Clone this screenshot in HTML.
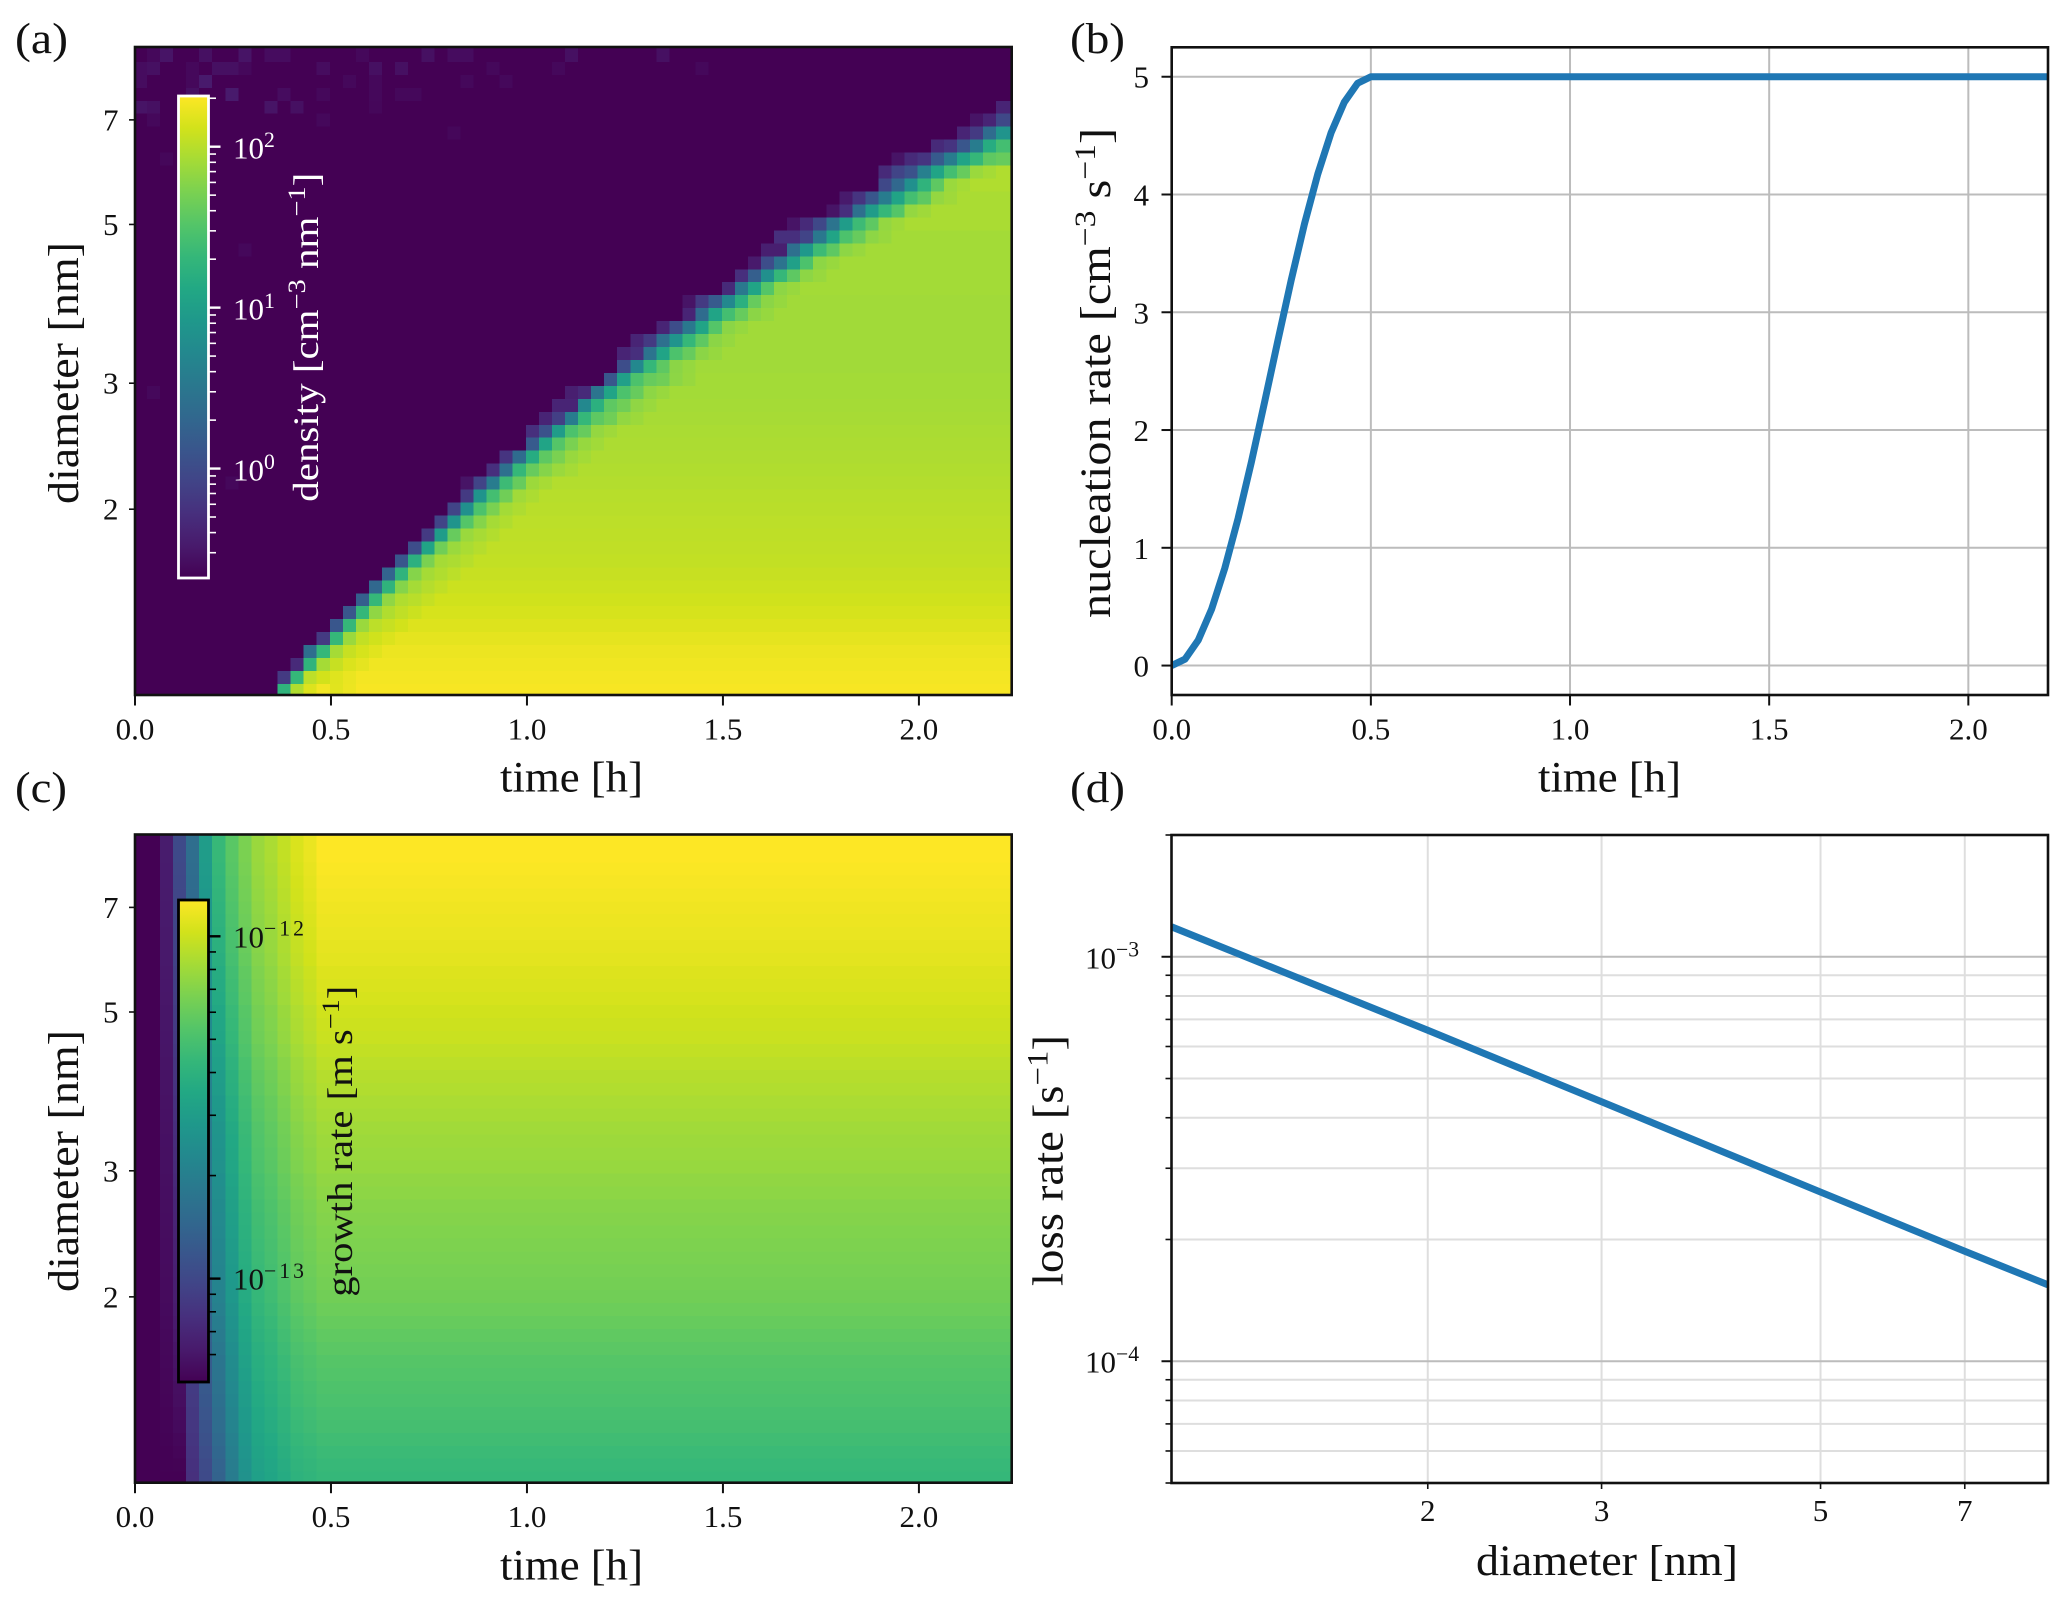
<!DOCTYPE html>
<html lang="en">
<head>
<meta charset="utf-8">
<title>Nucleation and growth panels</title>
<style>
html,body{margin:0;padding:0;background:#fff;}
svg{display:block;}
text{font-family:"Liberation Serif","DejaVu Serif",serif;}
</style>
</head>
<body>
<svg id="chart" xmlns="http://www.w3.org/2000/svg" width="2067" height="1609" viewBox="0 0 2067 1609">
<defs>
<clipPath id="clip-b"><rect x="1171.7" y="47.3" width="876.3" height="647.7"/></clipPath>
<clipPath id="clip-d"><rect x="1171.5" y="835" width="876.5" height="648"/></clipPath>
<linearGradient id="viridis-gradient" x1="0" y1="1" x2="0" y2="0"></linearGradient>
</defs>
<rect x="0" y="0" width="2067" height="1609" fill="#ffffff"/>

<g id="heat-a" shape-rendering="crispEdges"></g>
<g id="heat-c" shape-rendering="crispEdges"></g>
<g id="grid-b"></g>
<g id="grid-d"></g>
<path id="line-b" clip-path="url(#clip-b)" fill="none" stroke="#1f77b4" stroke-width="7" stroke-linejoin="round"/>
<path id="line-d" clip-path="url(#clip-d)" fill="none" stroke="#1f77b4" stroke-width="7" stroke-linejoin="round"/>

<rect x="135" y="47" width="876.7" height="648" fill="none" stroke="#111" stroke-width="2.6"/>
<rect x="1171.7" y="47.3" width="876.3" height="647.7" fill="none" stroke="#111" stroke-width="2.6"/>
<rect x="135" y="834.5" width="876.7" height="648.2" fill="none" stroke="#111" stroke-width="2.6"/>
<rect x="1171.5" y="835" width="876.5" height="648" fill="none" stroke="#111" stroke-width="2.6"/>

<rect x="178.5" y="96" width="30" height="482" fill="url(#viridis-gradient)" stroke="#ffffff" stroke-width="2.8"/>
<rect x="178.5" y="900" width="30" height="482" fill="url(#viridis-gradient)" stroke="#000000" stroke-width="2.8"/>

<g id="axes-marks"></g>

<text x="15" y="53" font-size="43" textLength="53" lengthAdjust="spacingAndGlyphs" fill="#111">(a)</text>
<text x="1070" y="53" font-size="43" textLength="55" lengthAdjust="spacingAndGlyphs" fill="#111">(b)</text>
<text x="15" y="802" font-size="43" textLength="52" lengthAdjust="spacingAndGlyphs" fill="#111">(c)</text>
<text x="1070" y="802" font-size="43" textLength="55" lengthAdjust="spacingAndGlyphs" fill="#111">(d)</text>

<text x="500" y="791.5" font-size="43" textLength="143" lengthAdjust="spacingAndGlyphs" fill="#111">time [h]</text>
<text x="1538" y="791.5" font-size="43" textLength="143" lengthAdjust="spacingAndGlyphs" fill="#111">time [h]</text>
<text x="500" y="1579.3" font-size="43" textLength="143" lengthAdjust="spacingAndGlyphs" fill="#111">time [h]</text>
<text x="1476" y="1575" font-size="43" textLength="262" lengthAdjust="spacingAndGlyphs" fill="#111">diameter [nm]</text>

<text transform="translate(78,504) rotate(-90)" font-size="43" textLength="262" lengthAdjust="spacingAndGlyphs" fill="#111">diameter [nm]</text>
<text transform="translate(78,1292) rotate(-90)" font-size="43" textLength="262" lengthAdjust="spacingAndGlyphs" fill="#111">diameter [nm]</text>
<text transform="translate(1110,618) rotate(-90)" font-size="43" textLength="490" lengthAdjust="spacingAndGlyphs" fill="#111">nucleation rate [cm<tspan dy="-15" font-size="30">−3</tspan><tspan dy="15"> s</tspan><tspan dy="-15" font-size="30">−1</tspan><tspan dy="15">]</tspan></text>
<text transform="translate(1062.6,1286) rotate(-90)" font-size="43" textLength="251" lengthAdjust="spacingAndGlyphs" fill="#111">loss rate [s<tspan dy="-15" font-size="30">−1</tspan><tspan dy="15">]</tspan></text>

<text transform="translate(318,501.7) rotate(-90)" font-size="36" textLength="329" lengthAdjust="spacingAndGlyphs" fill="#ffffff">density [cm<tspan dy="-13" font-size="25">−3</tspan><tspan dy="13"> nm</tspan><tspan dy="-13" font-size="25">−1</tspan><tspan dy="13">]</tspan></text>
<text transform="translate(352,1296.7) rotate(-90)" font-size="36" textLength="311" lengthAdjust="spacingAndGlyphs" fill="#111">growth rate [m s<tspan dy="-13" font-size="25">−1</tspan><tspan dy="13">]</tspan></text>
</svg>

<script>
// ---------- Panel (a): density, log10 values ----------
// Each row (bottom to top): first coloured column, then the log10 density of successive edge cells.
const densityEdgeRows = [
 [11,1.25,1.95,2.15,2.25],
 [11,-0.2,1.3,2.0,2.1],
 [12,-0.35,1.25,1.9,2.05],
 [13,0.38,1.3,1.9,2.05],
 [14,-0.2,1.3,1.85,2.03],
 [15,0.1,1.3,1.85,2.0],
 [16,0.1,1.3,1.8,1.95],
 [17,0.2,1.3,1.8,1.95],
 [18,0.3,1.25,1.75,1.9],
 [19,0.25,1.25,1.75,1.9],
 [20,0.1,1.2,1.7,1.9],
 [21,0.0,1.05,1.65,1.85],
 [22,-0.2,0.95,1.6,1.85],
 [23,-0.1,0.85,1.5,1.75],
 [24,-0.1,0.8,1.45,1.7],
 [25,-0.2,0.85,1.4,1.65],
 [25,-0.55,-0.1,0.55,1.35,1.6],
 [27,-0.3,0.4,1.3,1.6,1.75],
 [28,-0.25,0.35,1.15,1.55,1.7],
 [30,0.15,1.05,1.5,1.7],
 [30,-0.3,0.05,0.95,1.45,1.6],
 [31,-0.4,-0.15,0.55,1.3,1.55,1.65],
 [32,-0.4,-0.4,0.7,1.2,1.55,1.65],
 [33,-0.45,-0.35,0.45,1.05,1.45,1.6],
 [36,0.1,1.0,1.45,1.6,1.65],
 [37,0.0,0.7,1.3,1.55],
 [37,-0.4,-0.3,0.45,1.05,1.45,1.6],
 [38,-0.4,-0.2,0.4,0.85,1.3,1.55],
 [40,-0.4,0.0,0.5,1.05,1.5],
 [42,-0.4,0.35,1.05,1.4,1.6],
 [42,-0.55,-0.2,0.15,0.7,1.2,1.6],
 [45,-0.35,0.5,1.05,1.5],
 [46,-0.3,0.2,0.8,1.3,1.55],
 [47,-0.5,0.0,0.45,1.0,1.45],
 [48,-0.45,-0.45,0.4,0.9,1.35,1.55],
 [49,-0.3,-0.3,-0.1,0.5,1.05,1.45,1.6],
 [50,-0.55,-0.35,-0.05,0.45,0.95,1.35,1.55],
 [53,-0.55,-0.3,0.4,0.95,1.3,1.5],
 [54,-0.5,-0.25,0.1,0.55,1.05,1.4,1.55],
 [57,-0.05,0.3,0.8,1.25,1.55],
 [57,-0.35,-0.1,0.05,0.6,1.05,1.4,1.6],
 [58,-0.55,-0.35,-0.25,0.15,0.55,1.05,1.3,1.55,1.6],
 [61,-0.35,-0.25,0.1,0.55,1.15,1.4],
 [63,-0.4,-0.2,0.35,0.85],
 [64,-0.55,-0.4,-0.05],
 [66,-0.4]
];
const densityPlateauLog = [2.27,2.26,2.24,2.22,2.19,2.15,2.12,2.09,2.07,2.05,2.03,2.02,2.01,2.0,1.99,1.98,1.96,1.95,1.94,1.93,1.92,1.91,1.9,1.89,1.89,1.88,1.88,1.88,1.88,1.88,1.88,1.89,1.89,1.89,1.89,1.89,1.92,1.92,1.92,1.95,1.95,1.95,1.95,1.95,1.95,1.95];
// Offset of the cells just behind the explicit edge, relative to the row's plateau
const densityPlateauApproach = [-0.1,-0.05];
// Isolated faint cells ahead of the front: [column, row, log10 density]
const densitySpeckles = [
 [1,49,-0.64],[2,49,-0.55],[5,49,-0.58],[8,49,-0.55],[10,49,-0.61],[11,49,-0.61],[17,49,-0.64],[22,49,-0.58],[24,49,-0.61],[25,49,-0.61],[33,49,-0.58],[40,49,-0.58],
 [0,48,-0.61],[1,48,-0.58],[4,48,-0.64],[6,48,-0.58],[7,48,-0.58],[8,48,-0.64],[14,48,-0.61],[18,48,-0.58],[20,48,-0.58],[27,48,-0.64],[32,48,-0.64],[43,48,-0.64],
 [0,47,-0.61],[4,47,-0.64],[5,47,-0.5],[16,47,-0.64],[18,47,-0.64],[25,47,-0.64],[28,47,-0.64],
 [4,46,-0.58],[7,46,-0.5],[11,46,-0.61],[14,46,-0.64],[18,46,-0.64],[20,46,-0.64],[21,46,-0.64],
 [0,45,-0.55],[1,45,-0.58],[10,45,-0.55],[12,45,-0.58],[18,45,-0.65],
 [1,44,-0.64],[14,44,-0.64],[24,43,-0.65],[2,41,-0.65],[8,34,-0.64],[1,23,-0.64],[7,16,-0.64]
];
const densityBackgroundLog = -0.7;
const densityColorRange = [-0.7, 2.3];
const densityColumnCount = 67;
const heatmapRowCount = 50;
const timeBinsPerHour = 30;

// ---------- Panel (c): growth rate, log10 m/s ----------
const growthPlateauLog = [-12.369,-12.362,-12.348,-12.334,-12.32,-12.313,-12.299,-12.292,-12.278,-12.271,-12.257,-12.243,-12.229,-12.215,-12.201,-12.194,-12.187,-12.18,-12.173,-12.166,-12.159,-12.152,-12.138,-12.131,-12.117,-12.11,-12.103,-12.096,-12.082,-12.075,-12.061,-12.054,-12.04,-12.026,-12.012,-12.005,-11.998,-11.984,-11.977,-11.97,-11.956,-11.949,-11.942,-11.935,-11.928,-11.921,-11.914,-11.907,-11.9,-11.9];
// Decades below the plateau for the first columns, read at the top and bottom rows
const growthStartupTop = [-1.4,-1.4,-1.3,-1.09,-0.9,-0.63,-0.46,-0.36,-0.28,-0.21,-0.175,-0.126,-0.077,-0.042];
const growthStartupBottom = [-0.93,-0.93,-0.93,-0.93,-0.74,-0.62,-0.49,-0.35,-0.22,-0.14,-0.11,-0.07,-0.03,-0.015];
const growthColorRange = [-13.3, -11.9];

// ---------- Panel (b) ----------
const nucleationTimes = [0,0.0333,0.0667,0.1,0.1333,0.1667,0.2,0.2333,0.2667,0.3,0.3333,0.3667,0.4,0.4333,0.4667,0.5,1,1.5,2,2.2];
const nucleationRates = [0,0.054,0.216,0.477,0.827,1.25,1.727,2.239,2.761,3.273,3.75,4.173,4.523,4.784,4.945,5,5,5,5,5];

// ---------- Panel (d) ----------
const lossDiameters = [1.1,2,3,5,7,8.5];
const lossRates = [1.186e-3,6.58e-4,4.38e-4,2.62e-4,1.87e-4,1.545e-4];

// ---------- Tick values and labels ----------
const timeTicks = [0,0.5,1,1.5,2];
const timeTickLabels = ['0.0','0.5','1.0','1.5','2.0'];
const diameterTicks = [2,3,5,7];
const diameterTickLabels = ['2','3','5','7'];
const nucleationTicks = [0,1,2,3,4,5];
const nucleationTickLabels = ['0','1','2','3','4','5'];
const lossMajorExponents = [-3,-4];
const lossMinorValues = [2e-3,9e-4,8e-4,7e-4,6e-4,5e-4,4e-4,3e-4,2e-4,9e-5,8e-5,7e-5,6e-5,5e-5];
const densityCbarExponents = [2,1,0];
const densityCbarMinors = [200,90,80,70,60,50,40,30,20,9,8,7,6,5,4,3,2,0.9,0.8,0.7,0.6,0.5,0.4,0.3];
const growthCbarExponents = [-12,-13];
const growthCbarMinors = [9e-13,8e-13,7e-13,6e-13,5e-13,4e-13,3e-13,2e-13,9e-14,8e-14,7e-14,6e-14];
const viridisStops = ['#440154','#481a6c','#472f7d','#414487','#39568c','#31688e','#2a788e','#23888e','#1f988b','#22a884','#35b779','#54c568','#7ad151','#a5db36','#d2e21b','#fde725'];

// ---------- Axis functions ----------
function linearScale(d0,d1,r0,r1){return v=>r0+(v-d0)/(d1-d0)*(r1-r0);}
function logScale(d0,d1,r0,r1){const a=Math.log10(d0),b=Math.log10(d1);return v=>r0+(Math.log10(v)-a)/(b-a)*(r1-r0);}

const timeMax = 2.2367;
const timeA = linearScale(0,timeMax,135,1011.7);
const timeB = linearScale(0,2.2,1171.7,2048);
const diamA = logScale(1.1,8.85,695,47);
const diamC = logScale(1.1,8.85,1482.7,834.5);
const rateB = linearScale(-0.25,5.25,695,47.3);
const diamD = logScale(1.1,8.5,1171.5,2048);
const lossD = logScale(5e-5,2e-3,1483,835);
const cbarA = linearScale(-0.68,2.315,578,96);
const cbarC = linearScale(-13.302,-11.894,1382,900);

function hexRgb(h){return [parseInt(h.slice(1,3),16),parseInt(h.slice(3,5),16),parseInt(h.slice(5,7),16)];}
function viridis(t){
  t=Math.max(0,Math.min(1,t));
  const p=t*(viridisStops.length-1),i=Math.min(Math.floor(p),viridisStops.length-2),f=p-i;
  const a=hexRgb(viridisStops[i]),b=hexRgb(viridisStops[i+1]);
  return 'rgb('+[0,1,2].map(k=>Math.round(a[k]+(b[k]-a[k])*f)).join(',')+')';
}

const NS='http://www.w3.org/2000/svg';
function node(tag,parent){const el=document.createElementNS(NS,tag);parent.appendChild(el);return el;}

function addCell(parent,x0,x1,y0,y1,color){
  const el=node('rect',parent);
  el.setAttribute('x',x0);
  el.setAttribute('y',y1);
  el.setAttribute('width',x1-x0);
  el.setAttribute('height',y0-y1);
  el.setAttribute('fill',color);
  
  
}
function addTick(parent,x1,y1,x2,y2,width,color){
  const el=node('line',parent);
  el.setAttribute('x1',x1);
  el.setAttribute('y1',y1);
  el.setAttribute('x2',x2);
  el.setAttribute('y2',y2);
  el.setAttribute('stroke',color);
  el.setAttribute('stroke-width',width);
  
  
}
function addGrid(parent,x1,y1,x2,y2,color){
  const el=node('line',parent);
  el.setAttribute('x1',x1);
  el.setAttribute('y1',y1);
  el.setAttribute('x2',x2);
  el.setAttribute('y2',y2);
  el.setAttribute('stroke',color);
  el.setAttribute('stroke-width',2);
  
  
}
function addLabel(parent,x,y,anchor,text,exponent,color,size,supSpacing){
  const el=node('text',parent);
  el.setAttribute('x',x);
  el.setAttribute('y',y);
  el.setAttribute('text-anchor',anchor);
  el.setAttribute('fill',color);
  el.setAttribute('font-size',size);
  el.textContent=text;
  if(exponent!==null){
    const sup=node('tspan',el);
    sup.setAttribute('dy',-size*0.38);
    sup.setAttribute('font-size',size*0.7);
    if(supSpacing)sup.setAttribute('letter-spacing',supSpacing);
    sup.textContent=String(exponent).replace('-','−');
  }
  
  
}

// ---------- Heatmap bin edges (the mesh sits slightly off the axis origin) ----------
const logDmin=Math.log10(1.1), logDmax=Math.log10(8.85);
const rowMeshOffset=0.15, columnMeshOffset=0.09;
function rowEdge(r){
  if(r<=0)return 1.1;
  if(r>=heatmapRowCount)return 8.85;
  return Math.pow(10,logDmin+(logDmax-logDmin)*(r-rowMeshOffset)/heatmapRowCount);
}
function columnEdge(c){
  if(c<=0)return 0;
  if(c>=densityColumnCount)return timeMax;
  return (c-columnMeshOffset)/timeBinsPerHour;
}

// ---------- Heatmap (a) ----------
const heatA=document.getElementById('heat-a');
function densityColor(v){return viridis((v-densityColorRange[0])/(densityColorRange[1]-densityColorRange[0]));}
const speckleLookup={};
densitySpeckles.forEach(s=>{speckleLookup[s[0]+'_'+s[1]]=s[2];});
for(let r=0;r<heatmapRowCount;r++){
  const edge=densityEdgeRows[r];
  for(let c=0;c<densityColumnCount;c++){
    let v=densityBackgroundLog;
    if(edge&&c>=edge[0]){
      const k=c-edge[0]+1;
      if(k<edge.length){
        v=edge[k];
      }else{
        const behind=k-edge.length;
        v=densityPlateauLog[r]+(behind<densityPlateauApproach.length?densityPlateauApproach[behind]:0);
      }
    }
    const key=c+'_'+r;
    if(key in speckleLookup&&v===densityBackgroundLog)v=speckleLookup[key];
    addCell(heatA,timeA(columnEdge(c)),timeA(columnEdge(c+1)),diamA(rowEdge(r)),diamA(rowEdge(r+1)),densityColor(v));
  }
}

// ---------- Heatmap (c) ----------
const heatC=document.getElementById('heat-c');
const growthLow=growthPlateauLog[0], growthHigh=growthPlateauLog[growthPlateauLog.length-1];
for(let r=0;r<heatmapRowCount;r++){
  const w=(growthPlateauLog[r]-growthLow)/(growthHigh-growthLow);
  for(let c=0;c<densityColumnCount;c++){
    const top=c<growthStartupTop.length?growthStartupTop[c]:0;
    const bottom=c<growthStartupBottom.length?growthStartupBottom[c]:0;
    const v=growthPlateauLog[r]+bottom+(top-bottom)*w;
    const t=(v-growthColorRange[0])/(growthColorRange[1]-growthColorRange[0]);
    addCell(heatC,timeA(columnEdge(c)),timeA(columnEdge(c+1)),diamC(rowEdge(r)),diamC(rowEdge(r+1)),viridis(t));
  }
}

// ---------- Colorbar gradient ----------
const gradient=document.getElementById('viridis-gradient');
viridisStops.forEach((color,i)=>{
  const stop=node('stop',gradient);
  stop.setAttribute('offset',i/(viridisStops.length-1));
  stop.setAttribute('stop-color',color);
});

// ---------- Grids ----------
const gridB=document.getElementById('grid-b');
const gridD=document.getElementById('grid-d');
timeTicks.forEach(v=>{if(v>0)addGrid(gridB,timeB(v),47.3,timeB(v),695,'#bcbcbc');});
nucleationTicks.forEach(v=>{addGrid(gridB,1171.7,rateB(v),2048,rateB(v),'#bcbcbc');});
diameterTicks.forEach(v=>{addGrid(gridD,diamD(v),835,diamD(v),1483,'#dedede');});
lossMinorValues.forEach(v=>{addGrid(gridD,1171.5,lossD(v),2048,lossD(v),'#dedede');});
lossMajorExponents.forEach(e=>{addGrid(gridD,1171.5,lossD(Math.pow(10,e)),2048,lossD(Math.pow(10,e)),'#bcbcbc');});

// ---------- Lines ----------
document.getElementById('line-b').setAttribute('d',nucleationTimes.map((t,i)=>(i?'L':'M')+timeB(t).toFixed(2)+' '+rateB(nucleationRates[i]).toFixed(2)).join(' '));
document.getElementById('line-d').setAttribute('d',lossDiameters.map((d,i)=>(i?'L':'M')+diamD(d).toFixed(2)+' '+lossD(lossRates[i]).toFixed(2)).join(' '));

// ---------- Ticks and tick labels ----------
const marks=document.getElementById('axes-marks');
const ink='#111111';
const tickSize=31;
function timeAxis(scale,baseY,labelY){
  timeTicks.forEach((v,i)=>{
    addTick(marks,scale(v),baseY,scale(v),baseY+10.5,2,ink);
    addLabel(marks,scale(v),labelY,'middle',timeTickLabels[i],null,ink,tickSize,0);
  });
}
timeAxis(timeA,695,739.3);
timeAxis(timeB,695,739.3);
timeAxis(timeA,1482.7,1527);

function diameterAxisY(scale){
  diameterTicks.forEach((v,i)=>{
    addTick(marks,129,scale(v),135,scale(v),1.6,ink);
    addLabel(marks,118.5,scale(v)+10.5,'end',diameterTickLabels[i],null,ink,tickSize,0);
  });
}
diameterAxisY(diamA);
diameterAxisY(diamC);

nucleationTicks.forEach((v,i)=>{
  addTick(marks,1161.5,rateB(v),1171.7,rateB(v),2,ink);
  addLabel(marks,1149,rateB(v)+11,'end',nucleationTickLabels[i],null,ink,tickSize,0);
});

diameterTicks.forEach((v,i)=>{
  addTick(marks,diamD(v),1483,diamD(v),1489,1.6,ink);
  addLabel(marks,diamD(v),1521,'middle',diameterTickLabels[i],null,ink,tickSize,0);
});
lossMajorExponents.forEach(e=>{
  const y=lossD(Math.pow(10,e));
  addTick(marks,1161.5,y,1171.5,y,2,ink);
  addLabel(marks,1085,y+11.5,'start','10',e,ink,tickSize,0);
});
lossMinorValues.forEach(v=>{
  addTick(marks,1165.5,lossD(v),1171.5,lossD(v),1.6,ink);
});

// ---------- Colorbar ticks ----------
densityCbarExponents.forEach(e=>{
  addTick(marks,209,cbarA(e),220.5,cbarA(e),2.4,'#ffffff');
  addLabel(marks,233,cbarA(e)+12,'start','10',e,'#ffffff',tickSize,0);
});
densityCbarMinors.forEach(v=>{
  addTick(marks,209,cbarA(Math.log10(v)),216,cbarA(Math.log10(v)),1.6,'#ffffff');
});
growthCbarExponents.forEach(e=>{
  addTick(marks,209,cbarC(e),220.5,cbarC(e),2.4,'#000000');
  addLabel(marks,233,cbarC(e)+11,'start','10',e,'#111111',tickSize,3);
});
growthCbarMinors.forEach(v=>{
  addTick(marks,209,cbarC(Math.log10(v)),216,cbarC(Math.log10(v)),1.6,'#000000');
});
</script>
</body>
</html>
